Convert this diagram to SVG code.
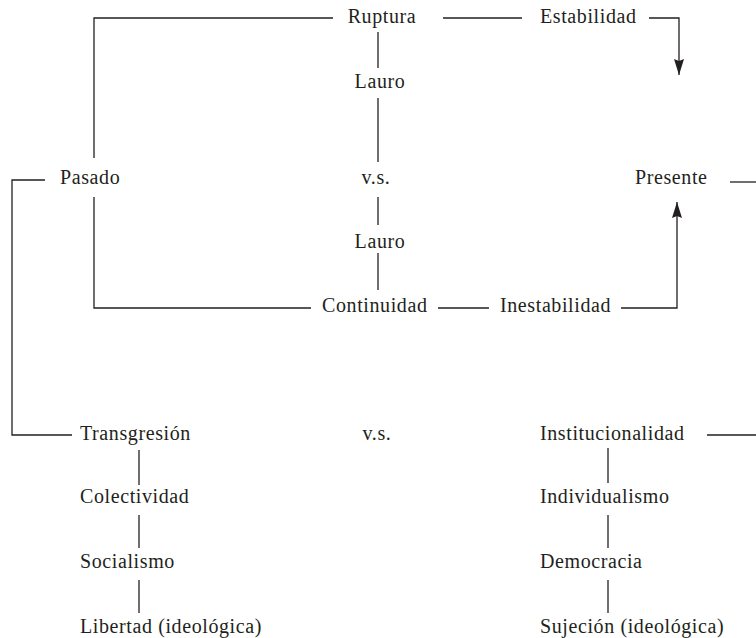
<svg xmlns="http://www.w3.org/2000/svg" width="756" height="638" viewBox="0 0 756 638">
<style>
text{font-family:"Liberation Serif","Times New Roman",serif;font-size:20px;letter-spacing:0.6px;fill:#231f20}
.c{text-anchor:middle}
#connectors line,#connectors polyline{stroke:#231f20;stroke-width:1.3;fill:none}
</style>
<defs>
<marker id="arr" viewBox="0 0 16 10" refX="16" refY="5" markerWidth="16" markerHeight="10" orient="auto" markerUnits="userSpaceOnUse">
<path d="M0,0 L16,5 L0,10 L2,5 z" fill="#231f20"/>
</marker>
</defs>
<rect width="756" height="638" fill="#fff"/>
<g id="connectors">
<polyline points="333,18 94,18 94,158"/>
<line x1="443" y1="18" x2="522" y2="18"/>
<polyline points="649,18 679,18 679,75" marker-end="url(#arr)"/>
<line x1="378" y1="32" x2="378" y2="68"/>
<line x1="378" y1="98" x2="378" y2="162"/>
<line x1="378" y1="197" x2="378" y2="225"/>
<line x1="378" y1="253" x2="378" y2="290"/>
<polyline points="45,180 12,180 12,435 72,435"/>
<polyline points="94,197 94,308 311,308"/>
<line x1="438" y1="308" x2="489" y2="308"/>
<polyline points="621,308 677,308 677,202" marker-end="url(#arr)"/>
<line x1="730" y1="182" x2="756" y2="182"/>
<line x1="707" y1="435" x2="756" y2="435"/>
<line x1="139" y1="450" x2="139" y2="485"/>
<line x1="139" y1="515" x2="139" y2="548"/>
<line x1="139" y1="580" x2="139" y2="613"/>
<line x1="608" y1="448" x2="608" y2="483"/>
<line x1="608" y1="515" x2="608" y2="548"/>
<line x1="608" y1="580" x2="608" y2="613"/>
</g>
<g id="ruptura"><text x="382" y="23" class="c">Ruptura</text></g>
<g id="estabilidad"><text x="540" y="23">Estabilidad</text></g>
<g id="lauro1"><text x="380" y="88" class="c">Lauro</text></g>
<g id="vs1"><text x="376" y="184" class="c">v.s.</text></g>
<g id="lauro2"><text x="380" y="248" class="c">Lauro</text></g>
<g id="pasado"><text x="60" y="184">Pasado</text></g>
<g id="presente"><text x="635" y="184">Presente</text></g>
<g id="continuidad"><text x="322" y="312">Continuidad</text></g>
<g id="inestabilidad"><text x="500" y="312">Inestabilidad</text></g>
<g id="transgresion"><text x="80" y="440">Transgresión</text></g>
<g id="vs2"><text x="377" y="440" class="c">v.s.</text></g>
<g id="institucionalidad"><text x="540" y="440">Institucionalidad</text></g>
<g id="colectividad"><text x="80" y="503">Colectividad</text></g>
<g id="socialismo"><text x="80" y="568">Socialismo</text></g>
<g id="libertad"><text x="80" y="633">Libertad (ideológica)</text></g>
<g id="individualismo"><text x="540" y="503">Individualismo</text></g>
<g id="democracia"><text x="540" y="568">Democracia</text></g>
<g id="sujecion"><text x="540" y="633">Sujeción (ideológica)</text></g>
</svg>
